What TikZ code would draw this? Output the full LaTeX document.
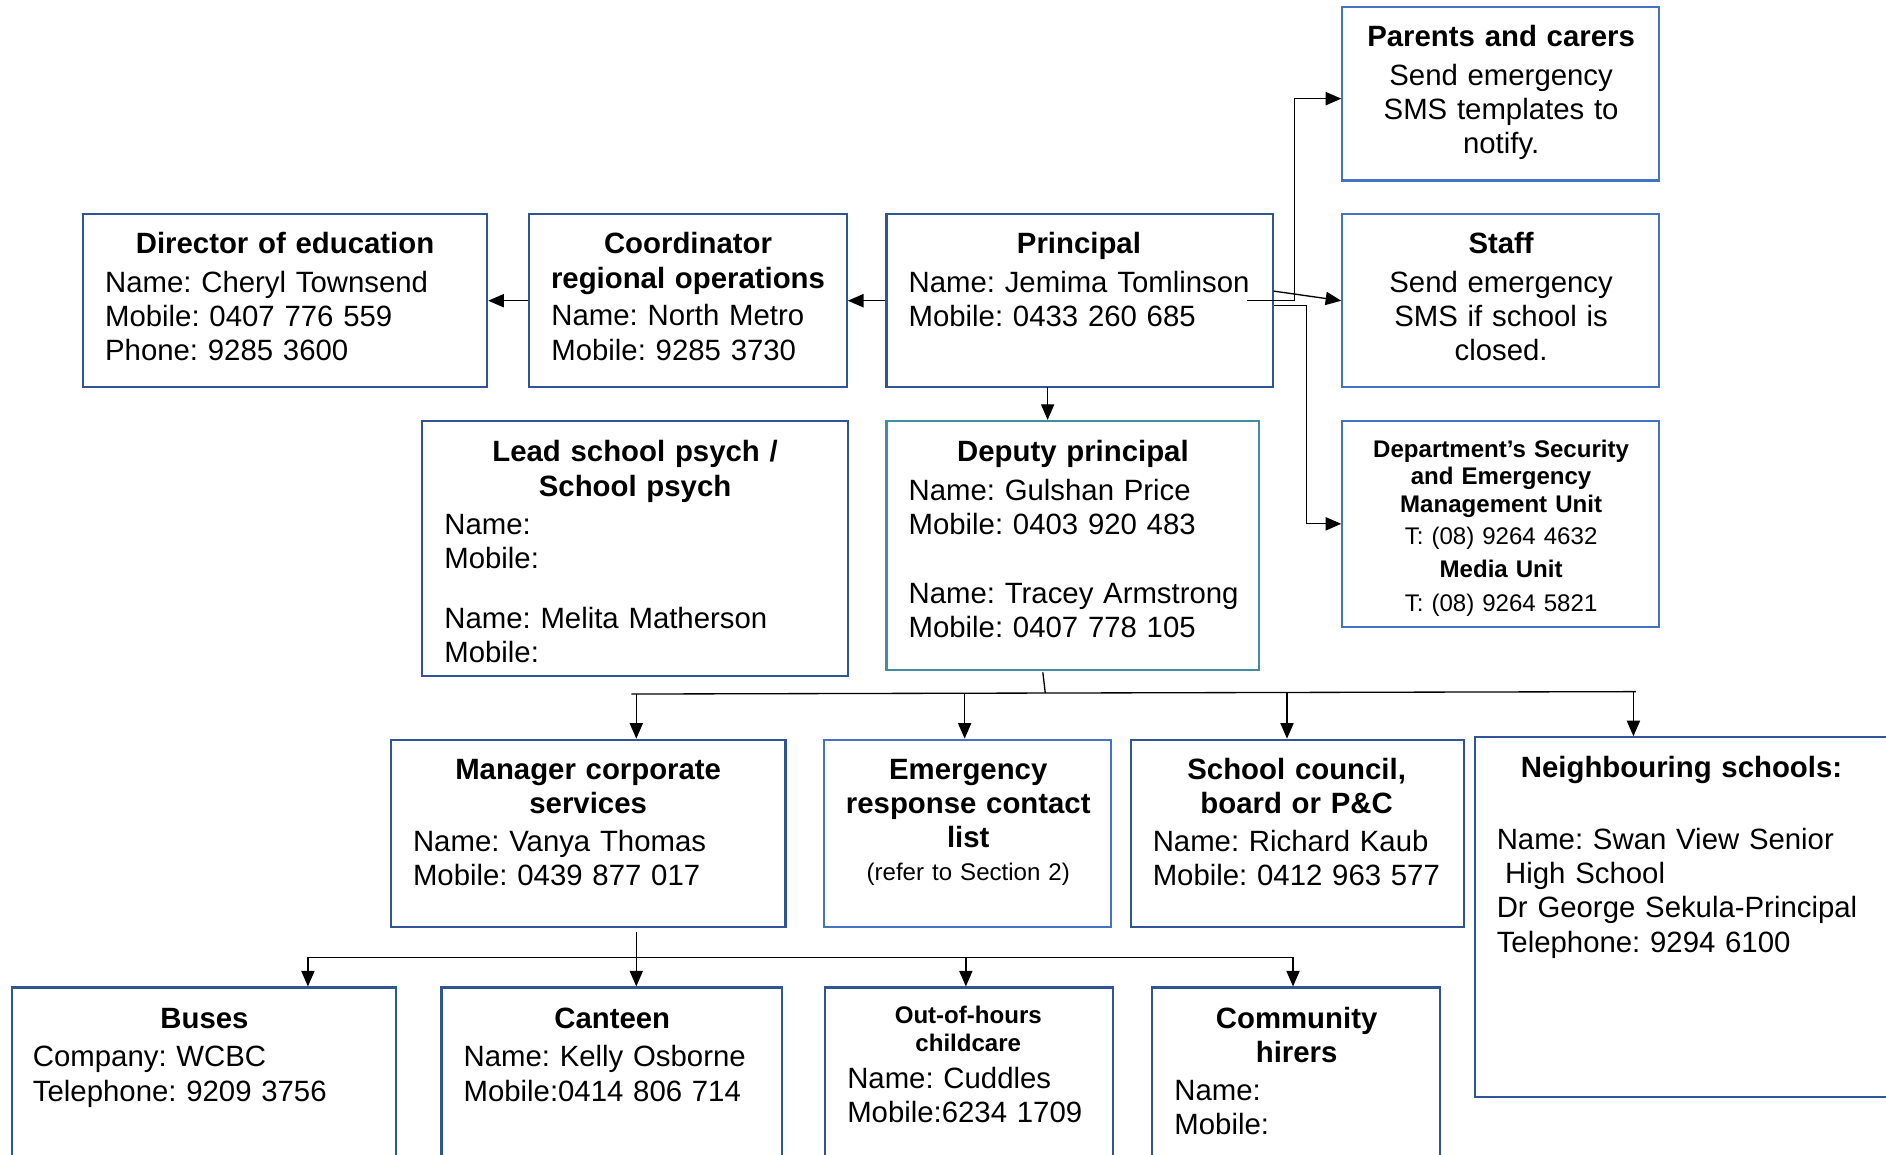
\documentclass[tikz,border=0pt]{standalone}
\usepackage{fontspec}
\setmainfont{Liberation Sans}
\usetikzlibrary{arrows.meta,fit}
\definecolor{dkblue}{HTML}{2F5597}
\definecolor{ltblue}{HTML}{4472C4}
\definecolor{tealb}{HTML}{438D9E}
\newcommand\bodyf{\fontsize{12.2}{14.25}\selectfont\frenchspacing}
\newcommand\smallf{\fontsize{10}{11.5}\selectfont\frenchspacing}
\begin{document}
\begin{tikzpicture}[x=0.5pt,y=-0.5pt,
  dbox/.style={draw=dkblue, line width=0.9pt, inner sep=0pt},
  lbox/.style={draw=ltblue, line width=0.9pt, inner sep=0pt},
  tbox/.style={draw=tealb, line width=0.9pt, inner sep=0pt},
  ttl/.style={inner sep=0pt, anchor=base, align=center, text width=300pt, font=\bodyf\bfseries},
  ctr/.style={inner sep=0pt, anchor=base, align=center, text width=300pt, font=\bodyf},
  bdy/.style={inner sep=0pt, anchor=base west, align=left, text width=300pt, font=\bodyf},
  sttl/.style={inner sep=0pt, anchor=base, align=center, text width=300pt, font=\smallf\bfseries},
  sctr/.style={inner sep=0pt, anchor=base, align=center, text width=300pt, font=\smallf},
  arr/.style={draw=black, line width=0.55pt, -{Triangle[length=6.5pt,width=5.5pt]}},
  ln/.style={draw=black, line width=0.55pt}]
\useasboundingbox (0,0) rectangle (1568,960);
\clip (0,0) rectangle (1568,960);

% ---- boxes ----
\node[lbox, fit={(1116,6) (1379,150)}] (par) {};
\node[lbox, fit={(1116,178) (1379,322)}] (stf) {};
\node[lbox, fit={(1116,350) (1379,521)}] (dept) {};
\node[dbox, fit={(69,178) (405,322)}] (dir) {};
\node[dbox, fit={(440,178) (704,322)}] (crd) {};
\node[dbox, fit={(737,178) (1058,322)}] (prin) {};
\node[dbox, fit={(351,350) (705,562)}] (lead) {};
\node[tbox, fit={(737,350) (1047,557)}] (dep) {};
\node[dbox, fit={(325,615) (653,771)}] (mgr) {};
\node[lbox, fit={(685,615) (924,771)}] (erc) {};
\node[dbox, fit={(940,615) (1217,771)}] (scl) {};
\node[dbox, fit={(1226,613) (1600,912)}] (nbs) {};
\node[dbox, fit={(10,821) (329,980)}] (bus) {};
\node[dbox, fit={(367,821) (650,980)}] (cnt) {};
\node[dbox, fit={(686,821) (925,980)}] (ooh) {};
\node[dbox, fit={(958,821) (1197,980)}] (chr) {};

% ---- texts ----
\node[ttl] (parT) at (1248,39) {Parents and carers};
\node[ctr] (parB) at (1248,71) {Send emergency\\SMS templates to\\notify.};
\node[ttl] (stfT) at (1248,211) {Staff};
\node[ctr] (stfB) at (1248,243) {Send emergency\\SMS if school is\\closed.};
\node[sttl] (deptT) at (1248,380) {Department’s Security\\and Emergency\\Management Unit};
\node[sctr] (deptP) at (1248,453) {T: (08) 9264 4632};
\node[sttl] (deptM) at (1248,480) {Media Unit};
\node[sctr] (deptQ) at (1248,508) {T: (08) 9264 5821};

\node[ttl] (dirT) at (237,211) {Director of education};
\node[bdy] (dirB) at (87,243) {Name: Cheryl Townsend\\Mobile: 0407 776 559\\Phone: 9285 3600};
\node[ttl] (crdT) at (572,211) {Coordinator\\regional operations};
\node[bdy] (crdB) at (458,271) {Name: North Metro\\Mobile: 9285 3730};
\node[ttl] (prinT) at (897,211) {Principal};
\node[bdy] (prinB) at (755,243) {Name: Jemima Tomlinson\\Mobile: 0433 260 685};

\node[ttl] (leadT) at (528,384) {Lead school psych /\\School psych};
\node[bdy] (leadB) at (369,444) {Name:\\Mobile:\\[10.75pt]Name: Melita Matherson\\Mobile:};
\node[ttl] (depT) at (892,384) {Deputy principal};
\node[bdy] (depB) at (755,416) {Name: Gulshan Price\\Mobile: 0403 920 483\\[14.25pt]Name: Tracey Armstrong\\Mobile: 0407 778 105};

\node[ttl] (mgrT) at (489,648) {Manager corporate\\services};
\node[bdy] (mgrB) at (343,708) {Name: Vanya Thomas\\Mobile: 0439 877 017};
\node[ttl] (ercT) at (805,648) {Emergency\\response contact\\list};
\node[sctr] (ercB) at (805,732) {(refer to Section 2)};
\node[ttl] (sclT) at (1078,648) {School council,\\board or P\&C};
\node[bdy] (sclB) at (958,708) {Name: Richard Kaub\\Mobile: 0412 963 577};
\node[ttl] (nbsT) at (1398,646) {Neighbouring schools:};
\node[bdy] (nbsB) at (1244,706) {Name: Swan View Senior\\\hspace*{3.5pt}High School\\Dr George Sekula-Principal\\Telephone: 9294 6100};

\node[ttl] (busT) at (170,855) {Buses};
\node[bdy] (busB) at (27,887) {Company: WCBC\\Telephone: 9209 3756};
\node[ttl] (cntT) at (509,855) {Canteen};
\node[bdy] (cntB) at (385,887) {Name: Kelly Osborne\\Mobile:0414 806 714};
\node[sttl] (oohT) at (805,851) {Out-of-hours\\childcare};
\node[bdy] (oohB) at (704,905) {Name: Cuddles\\Mobile:6234 1709};
\node[ttl] (chrT) at (1078,855) {Community\\hirers};
\node[bdy] (chrB) at (976,915) {Name:\\Mobile:};

% ---- connectors: top ----
\draw[arr] (crd.west) -- (dir.east);
\draw[arr] (prin.west) -- (crd.east);
\coordinate (pd) at (871,322);
\draw[arr] (pd) -- (pd |- dep.north);
\coordinate (pp) at (1037,250);
\coordinate (ppk) at (1076,250);
\draw[arr] (pp) -- (ppk) |- ([yshift=-2pt]par.west);
\draw[arr] ([yshift=4pt]prin.east) -- (stf.west);
\coordinate (pdk) at (1086,254);
\draw[arr] ([yshift=-2pt]prin.east) -- (pdk) |- (dept.west);

% ---- connectors: deputy to middle row ----
\coordinate (dA) at (867,559);
\coordinate (dB) at (869,576);
\coordinate (busL) at (525,577);
\coordinate (busR) at (1360,575);
\draw[ln] (dA) -- (dB);
\draw[ln] (busL) -- (busR);
\coordinate (m1) at (529,577);
\coordinate (m2) at (802,576);
\coordinate (m3) at (1070,576);
\coordinate (m4) at (1358,575);
\draw[arr] (m1) -- (m1 |- mgr.north);
\draw[arr] (m2) -- (m2 |- erc.north);
\draw[arr] (m3) -- (m3 |- scl.north);
\draw[arr] (m4) -- (m4 |- nbs.north);

% ---- connectors: manager to bottom row ----
\coordinate (mA) at (529,775);
\coordinate (mB) at (529,796);
\coordinate (bL) at (256,796);
\coordinate (bR) at (1075,796);
\draw[ln] (mA) -- (mB);
\draw[ln] (bL) -- (bR);
\coordinate (b2) at (529,796);
\coordinate (b3) at (803,796);
\draw[arr] (bL) -- (bL |- bus.north);
\draw[arr] (b2) -- (b2 |- cnt.north);
\draw[arr] (b3) -- (b3 |- ooh.north);
\draw[arr] (bR) -- (bR |- chr.north);
\end{tikzpicture}
\end{document}
